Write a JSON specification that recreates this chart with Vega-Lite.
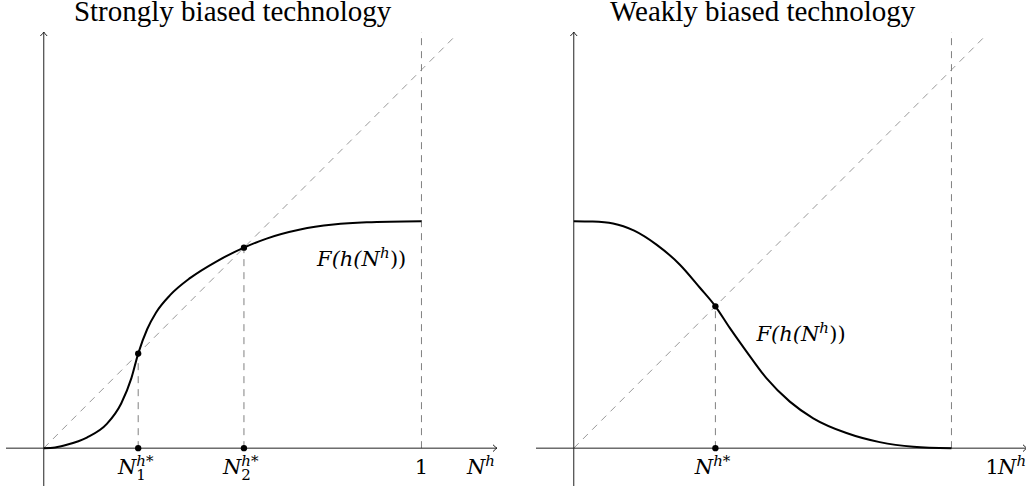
{
  "$schema": "https://vega.github.io/schema/vega-lite/v6.json",
  "padding": {"left": 5, "top": -2, "right": 0, "bottom": 0},
  "bounds": "flush",
  "spacing": 39,
  "config": {"view": {"stroke": null}},
  "datasets": {
    "lines": [
      {"panel": "A", "kind": "diag", "x": 0, "y": 0, "x2": 1.09, "y2": 1.09},
      {"panel": "A", "kind": "dash", "x": 0.25, "y": 0, "x2": 0.25, "y2": 0.25},
      {"panel": "A", "kind": "dash", "x": 0.53, "y": 0, "x2": 0.53, "y2": 0.53},
      {"panel": "A", "kind": "dash", "x": 1, "y": 0, "x2": 1, "y2": 1.1},
      {"panel": "A", "kind": "axis", "x": -0.1, "y": 0, "x2": 1.2, "y2": 0},
      {"panel": "A", "kind": "axis", "x": 0, "y": -0.1, "x2": 0, "y2": 1.1},
      {"panel": "B", "kind": "diag", "x": 0, "y": 0, "x2": 1.09, "y2": 1.09},
      {"panel": "B", "kind": "dash", "x": 0.375, "y": 0, "x2": 0.375, "y2": 0.375},
      {"panel": "B", "kind": "dash", "x": 1, "y": 0, "x2": 1, "y2": 1.1},
      {"panel": "B", "kind": "axis", "x": -0.1, "y": 0, "x2": 1.2, "y2": 0},
      {"panel": "B", "kind": "axis", "x": 0, "y": -0.1, "x2": 0, "y2": 1.1}
    ],
    "arrows": [
      {"panel": "A", "kind": "xaxis", "x": 1.2, "y": 0},
      {"panel": "A", "kind": "yaxis", "x": 0, "y": 1.1},
      {"panel": "B", "kind": "xaxis", "x": 1.2, "y": 0},
      {"panel": "B", "kind": "yaxis", "x": 0, "y": 1.1}
    ],
    "curves": [
      {"panel": "A", "x": 0, "y": 0},
      {"panel": "A", "x": 0.03, "y": 0.002},
      {"panel": "A", "x": 0.061, "y": 0.009},
      {"panel": "A", "x": 0.114, "y": 0.028},
      {"panel": "A", "x": 0.167, "y": 0.064},
      {"panel": "A", "x": 0.205, "y": 0.118},
      {"panel": "A", "x": 0.232, "y": 0.185},
      {"panel": "A", "x": 0.25, "y": 0.25},
      {"panel": "A", "x": 0.274, "y": 0.315},
      {"panel": "A", "x": 0.297, "y": 0.358},
      {"panel": "A", "x": 0.335, "y": 0.405},
      {"panel": "A", "x": 0.388, "y": 0.45},
      {"panel": "A", "x": 0.458, "y": 0.494},
      {"panel": "A", "x": 0.53, "y": 0.53},
      {"panel": "A", "x": 0.59, "y": 0.554},
      {"panel": "A", "x": 0.679, "y": 0.578},
      {"panel": "A", "x": 0.767, "y": 0.591},
      {"panel": "A", "x": 0.855, "y": 0.597},
      {"panel": "A", "x": 1.0, "y": 0.6},
      {"panel": "B", "x": 0, "y": 0.6},
      {"panel": "B", "x": 0.05, "y": 0.599},
      {"panel": "B", "x": 0.104, "y": 0.594},
      {"panel": "B", "x": 0.16, "y": 0.575},
      {"panel": "B", "x": 0.219, "y": 0.538},
      {"panel": "B", "x": 0.281, "y": 0.485},
      {"panel": "B", "x": 0.334, "y": 0.424},
      {"panel": "B", "x": 0.375, "y": 0.375},
      {"panel": "B", "x": 0.413, "y": 0.318},
      {"panel": "B", "x": 0.457, "y": 0.256},
      {"panel": "B", "x": 0.51, "y": 0.185},
      {"panel": "B", "x": 0.572, "y": 0.123},
      {"panel": "B", "x": 0.634, "y": 0.079},
      {"panel": "B", "x": 0.722, "y": 0.04},
      {"panel": "B", "x": 0.81, "y": 0.016},
      {"panel": "B", "x": 0.899, "y": 0.004},
      {"panel": "B", "x": 1.0, "y": 0}
    ],
    "points": [
      {"panel": "A", "x": 0.25, "y": 0.25},
      {"panel": "A", "x": 0.25, "y": 0},
      {"panel": "A", "x": 0.53, "y": 0.53},
      {"panel": "A", "x": 0.53, "y": 0},
      {"panel": "B", "x": 0.375, "y": 0.375},
      {"panel": "B", "x": 0.375, "y": 0}
    ],
    "labels": [
      {"panel": "A", "x": 0.245, "y": -0.069, "base": "N", "sup": "h*", "sub": "1"},
      {"panel": "A", "x": 0.523, "y": -0.069, "base": "N", "sup": "h*", "sub": "2"},
      {"panel": "A", "x": 1.0, "y": -0.069, "mid": "1"},
      {"panel": "A", "x": 1.169, "y": -0.069, "base": "N", "sup": "h"},
      {"panel": "A", "x": 0.89, "y": 0.482, "base": "F(h(N", "sup": "h", "post": "))"},
      {"panel": "B", "x": 0.369, "y": -0.069, "base": "N", "sup": "h*"},
      {"panel": "B", "x": 1.108, "y": -0.069, "mid": "1"},
      {"panel": "B", "x": 1.172, "y": -0.069, "base": "N", "sup": "h"},
      {"panel": "B", "x": 0.65, "y": 0.282, "base": "F(h(N", "sup": "h", "post": "))"}
    ]
  },
  "hconcat": [
    {
      "width": 491,
      "height": 454,
      "title": {"text": "Strongly biased technology", "font": "Liberation Serif", "fontSize": 29, "fontWeight": "normal", "color": "#000000", "anchor": "middle", "frame": "group", "baseline": "alphabetic", "offset": -20, "dx": -18.9},
      "encoding": {
        "x": {"field": "x", "type": "quantitative", "scale": {"domain": [-0.1, 1.2], "nice": false, "zero": false}, "axis": null},
        "y": {"field": "y", "type": "quantitative", "scale": {"domain": [-0.1, 1.1], "nice": false, "zero": false}, "axis": null}
      },
      "layer": [
        {"data": {"name": "lines"}, "transform": [{"filter": "datum.panel === 'A' && datum.kind === 'diag'"}], "mark": {"type": "rule", "color": "#999999", "strokeWidth": 1, "strokeDash": [7, 6]}, "encoding": {"x2": {"field": "x2"}, "y2": {"field": "y2"}}},
        {"data": {"name": "lines"}, "transform": [{"filter": "datum.panel === 'A' && datum.kind === 'dash'"}], "mark": {"type": "rule", "color": "#808080", "strokeWidth": 1, "strokeDash": [7, 6]}, "encoding": {"x2": {"field": "x2"}, "y2": {"field": "y2"}}},
        {"data": {"name": "lines"}, "transform": [{"filter": "datum.panel === 'A' && datum.kind === 'axis'"}], "mark": {"type": "rule", "color": "#222222", "strokeWidth": 1}, "encoding": {"x2": {"field": "x2"}, "y2": {"field": "y2"}}},
        {"data": {"name": "arrows"}, "transform": [{"filter": "datum.panel === 'A' && datum.kind === 'xaxis'"}], "mark": {"type": "point", "shape": "M -1 -0.85 Q -0.35 -0.2 0 0 Q -0.35 0.2 -1 0.85", "size": 64, "filled": false, "stroke": "#222222", "strokeWidth": 1, "opacity": 1}},
        {"data": {"name": "arrows"}, "transform": [{"filter": "datum.panel === 'A' && datum.kind === 'yaxis'"}], "mark": {"type": "point", "shape": "M -0.85 1 Q -0.2 0.35 0 0 Q 0.2 0.35 0.85 1", "size": 64, "filled": false, "stroke": "#222222", "strokeWidth": 1, "opacity": 1}},
        {"data": {"name": "curves"}, "transform": [{"filter": "datum.panel === 'A'"}], "mark": {"type": "line", "color": "#000000", "strokeWidth": 2, "interpolate": "monotone"}},
        {"data": {"name": "points"}, "transform": [{"filter": "datum.panel === 'A'"}], "mark": {"type": "circle", "color": "#000000", "size": 40, "opacity": 1}},
        {"data": {"name": "labels"}, "transform": [{"filter": "datum.panel === 'A' && datum.base != null"}], "mark": {"type": "text", "font": "DejaVu Serif", "fontStyle": "italic", "fontSize": 21, "align": "right", "baseline": "alphabetic", "color": "#000000"}, "encoding": {"text": {"field": "base"}}},
        {"data": {"name": "labels"}, "transform": [{"filter": "datum.panel === 'A' && datum.sup != null"}], "mark": {"type": "text", "font": "DejaVu Serif", "fontStyle": "italic", "fontSize": 15, "align": "left", "baseline": "alphabetic", "dy": -8, "color": "#000000"}, "encoding": {"text": {"field": "sup"}}},
        {"data": {"name": "labels"}, "transform": [{"filter": "datum.panel === 'A' && datum.sub != null"}], "mark": {"type": "text", "font": "DejaVu Serif", "fontSize": 15, "align": "left", "baseline": "alphabetic", "dy": 6, "color": "#000000"}, "encoding": {"text": {"field": "sub"}}},
        {"data": {"name": "labels"}, "transform": [{"filter": "datum.panel === 'A' && datum.post != null"}], "mark": {"type": "text", "font": "DejaVu Serif", "fontSize": 21, "align": "left", "baseline": "alphabetic", "dx": 10, "color": "#000000"}, "encoding": {"text": {"field": "post"}}},
        {"data": {"name": "labels"}, "transform": [{"filter": "datum.panel === 'A' && datum.mid != null"}], "mark": {"type": "text", "font": "DejaVu Serif", "fontSize": 21, "align": "center", "baseline": "alphabetic", "color": "#000000"}, "encoding": {"text": {"field": "mid"}}}
      ]
    },
    {
      "width": 491,
      "height": 454,
      "title": {"text": "Weakly biased technology", "font": "Liberation Serif", "fontSize": 29, "fontWeight": "normal", "color": "#000000", "anchor": "middle", "frame": "group", "baseline": "alphabetic", "offset": -20, "dx": -18.9},
      "encoding": {
        "x": {"field": "x", "type": "quantitative", "scale": {"domain": [-0.1, 1.2], "nice": false, "zero": false}, "axis": null},
        "y": {"field": "y", "type": "quantitative", "scale": {"domain": [-0.1, 1.1], "nice": false, "zero": false}, "axis": null}
      },
      "layer": [
        {"data": {"name": "lines"}, "transform": [{"filter": "datum.panel === 'B' && datum.kind === 'diag'"}], "mark": {"type": "rule", "color": "#999999", "strokeWidth": 1, "strokeDash": [7, 6]}, "encoding": {"x2": {"field": "x2"}, "y2": {"field": "y2"}}},
        {"data": {"name": "lines"}, "transform": [{"filter": "datum.panel === 'B' && datum.kind === 'dash'"}], "mark": {"type": "rule", "color": "#808080", "strokeWidth": 1, "strokeDash": [7, 6]}, "encoding": {"x2": {"field": "x2"}, "y2": {"field": "y2"}}},
        {"data": {"name": "lines"}, "transform": [{"filter": "datum.panel === 'B' && datum.kind === 'axis'"}], "mark": {"type": "rule", "color": "#222222", "strokeWidth": 1}, "encoding": {"x2": {"field": "x2"}, "y2": {"field": "y2"}}},
        {"data": {"name": "arrows"}, "transform": [{"filter": "datum.panel === 'B' && datum.kind === 'xaxis'"}], "mark": {"type": "point", "shape": "M -1 -0.85 Q -0.35 -0.2 0 0 Q -0.35 0.2 -1 0.85", "size": 64, "filled": false, "stroke": "#222222", "strokeWidth": 1, "opacity": 1}},
        {"data": {"name": "arrows"}, "transform": [{"filter": "datum.panel === 'B' && datum.kind === 'yaxis'"}], "mark": {"type": "point", "shape": "M -0.85 1 Q -0.2 0.35 0 0 Q 0.2 0.35 0.85 1", "size": 64, "filled": false, "stroke": "#222222", "strokeWidth": 1, "opacity": 1}},
        {"data": {"name": "curves"}, "transform": [{"filter": "datum.panel === 'B'"}], "mark": {"type": "line", "color": "#000000", "strokeWidth": 2, "interpolate": "monotone"}},
        {"data": {"name": "points"}, "transform": [{"filter": "datum.panel === 'B'"}], "mark": {"type": "circle", "color": "#000000", "size": 40, "opacity": 1}},
        {"data": {"name": "labels"}, "transform": [{"filter": "datum.panel === 'B' && datum.base != null"}], "mark": {"type": "text", "font": "DejaVu Serif", "fontStyle": "italic", "fontSize": 21, "align": "right", "baseline": "alphabetic", "color": "#000000"}, "encoding": {"text": {"field": "base"}}},
        {"data": {"name": "labels"}, "transform": [{"filter": "datum.panel === 'B' && datum.sup != null"}], "mark": {"type": "text", "font": "DejaVu Serif", "fontStyle": "italic", "fontSize": 15, "align": "left", "baseline": "alphabetic", "dy": -8, "color": "#000000"}, "encoding": {"text": {"field": "sup"}}},
        {"data": {"name": "labels"}, "transform": [{"filter": "datum.panel === 'B' && datum.sub != null"}], "mark": {"type": "text", "font": "DejaVu Serif", "fontSize": 15, "align": "left", "baseline": "alphabetic", "dy": 6, "color": "#000000"}, "encoding": {"text": {"field": "sub"}}},
        {"data": {"name": "labels"}, "transform": [{"filter": "datum.panel === 'B' && datum.post != null"}], "mark": {"type": "text", "font": "DejaVu Serif", "fontSize": 21, "align": "left", "baseline": "alphabetic", "dx": 10, "color": "#000000"}, "encoding": {"text": {"field": "post"}}},
        {"data": {"name": "labels"}, "transform": [{"filter": "datum.panel === 'B' && datum.mid != null"}], "mark": {"type": "text", "font": "DejaVu Serif", "fontSize": 21, "align": "center", "baseline": "alphabetic", "color": "#000000"}, "encoding": {"text": {"field": "mid"}}}
      ]
    }
  ]
}
